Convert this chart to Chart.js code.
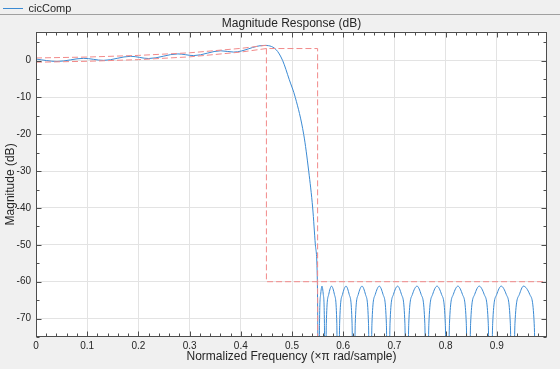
<!DOCTYPE html>
<html>
<head>
<meta charset="utf-8">
<script src="https://cdn.jsdelivr.net/npm/chart.js@4/dist/chart.umd.min.js"></script>
<style>
  html, body { margin: 0; padding: 0; background: #f0f0f0; }
  #wrap { width: 560px; height: 369px; }
</style>
</head>
<body>
<div id="wrap"><canvas id="magChart" width="560" height="369"></canvas></div>
<script>
// filter response, passband + transition band (x pi rad/sample, dB)
const passFreq = [0, 0.041, 0.093, 0.132, 0.185, 0.22, 0.277, 0.308, 0.361, 0.386, 0.445,
                  0.4686, 0.4817, 0.4947, 0.5064, 0.5228, 0.5326, 0.5404, 0.5456, 0.5495];
const passMag  = [0.4, -0.25, 0.6, 0.05, 1.15, 0.55, 1.8, 1.35, 2.65, 2.3, 4.1,
                  3.0, 0, -5.2, -10, -20, -30, -40, -50, -60];

// stopband lobes (nulls go far below the axis)
const stopFreq = [
  0.5525, 0.5537, 0.5559, 0.5585, 0.5611, 0.5633,
  0.5645, 0.567, 0.5716, 0.5772, 0.5829, 0.5875,
  0.590, 0.593, 0.5985, 0.6055, 0.6118, 0.6173,
  0.6203, 0.6235, 0.6293, 0.6367, 0.6436, 0.6494,
  0.6526, 0.6561, 0.6625, 0.6705, 0.6779, 0.6843,
  0.6878, 0.6914, 0.698, 0.7062, 0.7139, 0.7205,
  0.7241, 0.728, 0.735, 0.7442, 0.7523, 0.7594,
  0.7633, 0.7673, 0.7745, 0.7832, 0.7922, 0.7994,
  0.8034, 0.8075, 0.8149, 0.824, 0.833, 0.8404,
  0.8445, 0.8488, 0.8566, 0.8656, 0.8755, 0.8833,
  0.8876, 0.8919, 0.8997, 0.9085, 0.9186, 0.9264,
  0.9307, 0.9354, 0.9439, 0.952, 0.9645, 0.973,
  0.9777
];
const stopMag = [
  -110, -71.4, -63.5, -61.2, -63.5, -71.4,
  -110, -71.4, -63.5, -61.2, -63.5, -71.4,
  -110, -71.4, -63.5, -61.2, -63.5, -71.4,
  -110, -71.4, -63.5, -61.2, -63.5, -71.4,
  -110, -71.4, -63.5, -61.2, -63.5, -71.4,
  -110, -71.4, -63.5, -61.2, -63.5, -71.4,
  -110, -71.4, -63.5, -61.2, -63.5, -71.4,
  -110, -71.4, -63.5, -61.2, -63.5, -71.4,
  -110, -71.4, -63.5, -61.2, -63.5, -71.4,
  -110, -71.4, -63.5, -61.2, -63.5, -71.4,
  -110, -71.4, -63.5, -61.2, -63.5, -71.4,
  -110, -71.4, -63.5, -61.2, -63.5, -71.4,
  -110
];

// spec mask lines
const maskUpperFreq = [0, 0.1, 0.2, 0.3, 0.4, 0.45, 0.45, 0.998];
const maskUpperMag  = [0.7, 0.95, 1.4, 2.1, 3.3, 4.15, -60, -60];
const maskLowerFreq = [0, 0.1, 0.2, 0.3, 0.4, 0.45, 0.55, 0.55];
const maskLowerMag  = [-0.45, -0.2, 0.25, 1.0, 2.3, 3.26, 3.26, -75];

const xTicks = [0, 0.1, 0.2, 0.3, 0.4, 0.5, 0.6, 0.7, 0.8, 0.9];
const yTicks = [-70, -60, -50, -40, -30, -20, -10, 0];

const FONT = "'Liberation Sans', Arial, Helvetica, sans-serif";
const TXT = '#262626';
const MASK = '#f28a8a';

function toPoints(xs, ys) {
  return xs.map((x, i) => ({ x: x, y: ys[i] }));
}

const respPoints = toPoints(passFreq.concat(stopFreq), passMag.concat(stopMag));

// white plot area, box, inward ticks, legend separator
const axesBox = {
  id: 'axesBox',
  beforeDraw(chart) {
    const { ctx, chartArea: a } = chart;
    ctx.save();
    ctx.fillStyle = '#ffffff';
    ctx.fillRect(a.left, a.top, a.right - a.left, a.bottom - a.top);
    ctx.restore();
  },
  afterDraw(chart) {
    const { ctx, chartArea: a, scales } = chart;
    const L = Math.round(a.left) + 0.5, R = Math.round(a.right) - 0.5;
    const T = Math.round(a.top) + 0.5, B = Math.round(a.bottom) - 0.5;
    ctx.save();
    ctx.strokeStyle = '#a0a0a0';
    ctx.lineWidth = 1;
    ctx.beginPath();
    const ly = Math.round(chart.legend.bottom) + 0.5;
    ctx.moveTo(0, ly);
    ctx.lineTo(chart.width, ly);
    ctx.stroke();

    ctx.strokeStyle = '#4d4d4d';
    ctx.beginPath();
    for (let i = 0; i < 50; i++) {
      const px = Math.round(scales.x.getPixelForValue(i * 0.02)) + 0.5;
      const len = i % 5 === 0 ? 5 : 3;
      ctx.moveTo(px, B); ctx.lineTo(px, B - len);
      ctx.moveTo(px, T); ctx.lineTo(px, T + len);
    }
    for (let v = -75; v <= 5; v += 5) {
      const py = Math.round(scales.y.getPixelForValue(v)) + 0.5;
      const len = v % 10 === 0 ? 5 : 3;
      ctx.moveTo(L, py); ctx.lineTo(L + len, py);
      ctx.moveTo(R, py); ctx.lineTo(R - len, py);
    }
    ctx.stroke();
    ctx.strokeRect(L, T, R - L, B - T);
    ctx.restore();
  }
};

const ctx = document.getElementById('magChart').getContext('2d');
new Chart(ctx, {
  type: 'line',
  data: {
    datasets: [{
      label: 'cicComp',
      data: respPoints,
      borderColor: '#3b8ad3',
      borderWidth: 1,
      pointRadius: 0,
      cubicInterpolationMode: 'monotone',
      order: 1
    }, {
      label: 'mask upper',
      data: toPoints(maskUpperFreq, maskUpperMag),
      borderColor: MASK,
      borderWidth: 1,
      borderDash: [6, 3],
      pointRadius: 0,
      tension: 0,
      order: 0
    }, {
      label: 'mask lower',
      data: toPoints(maskLowerFreq, maskLowerMag),
      borderColor: MASK,
      borderWidth: 1,
      borderDash: [6, 3],
      pointRadius: 0,
      tension: 0,
      order: 0
    }]
  },
  options: {
    responsive: false,
    animation: false,
    layout: { padding: { left: 0, right: 13, top: 0, bottom: 0 } },
    scales: {
      x: {
        type: 'linear',
        min: 0,
        max: 0.998,
        afterBuildTicks: s => { s.ticks = xTicks.map(v => ({ value: v })); },
        afterFit: s => { s.height = 32; },
        ticks: {
          callback: v => String(v),
          color: TXT,
          font: { family: FONT, size: 10 },
          padding: 3,
          maxRotation: 0
        },
        grid: { color: '#e3e3e3', drawTicks: false },
        border: { display: false },
        title: {
          display: true,
          text: 'Normalized Frequency (\u00d7\u03c0 rad/sample)',
          color: TXT,
          font: { family: FONT, size: 12 },
          padding: { top: 0, bottom: 5.5 }
        }
      },
      y: {
        min: -75,
        max: 7.8,
        afterBuildTicks: s => { s.ticks = yTicks.map(v => ({ value: v })); },
        afterFit: s => { s.width = 36; },
        ticks: {
          callback: v => String(v),
          color: TXT,
          font: { family: FONT, size: 10 },
          padding: 5
        },
        grid: { color: '#e3e3e3', drawTicks: false },
        border: { display: false },
        title: {
          display: true,
          text: 'Magnitude (dB)',
          color: TXT,
          font: { family: FONT, size: 12 },
          padding: { top: 3, bottom: 0 }
        }
      }
    },
    plugins: {
      legend: {
        position: 'top',
        align: 'start',
        weight: 3000,
        maxHeight: 14,
        labels: {
          filter: item => item.datasetIndex === 0,
          usePointStyle: true,
          pointStyle: 'line',
          pointStyleWidth: 20,
          color: TXT,
          font: { family: FONT, size: 11 },
          padding: 3
        }
      },
      title: {
        display: true,
        fullSize: false,
        text: 'Magnitude Response (dB)',
        color: TXT,
        font: { family: FONT, size: 12, weight: 'normal' },
        padding: { top: 2, bottom: 1.4 }
      },
      tooltip: { enabled: false }
    }
  },
  plugins: [axesBox]
});
</script>
</body>
</html>
